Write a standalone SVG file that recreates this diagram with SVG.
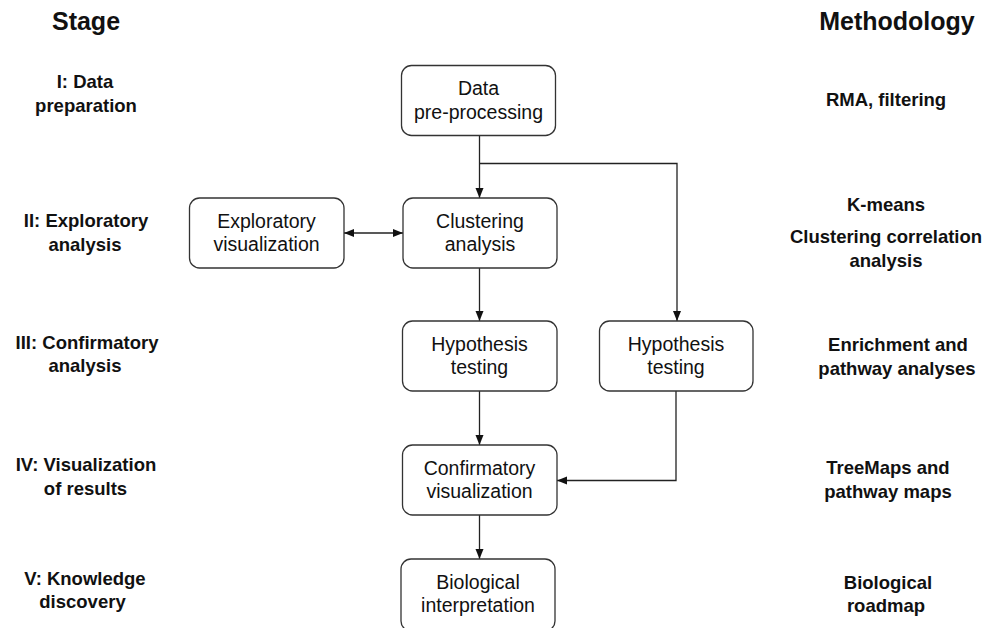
<svg xmlns="http://www.w3.org/2000/svg" width="995" height="628" viewBox="0 0 995 628">
<style>
.box{fill:#fff;stroke:#333;stroke-width:1.3}
.bt{font-family:"Liberation Sans",Arial,sans-serif;font-size:19.5px;fill:#111;text-anchor:middle}
.lab{font-family:"Liberation Sans",Arial,sans-serif;font-size:18.5px;font-weight:bold;fill:#111;text-anchor:middle}
.hd{font-family:"Liberation Sans",Arial,sans-serif;font-size:25px;font-weight:bold;fill:#111;text-anchor:middle}
.ln{fill:none;stroke:#222;stroke-width:1.3}
</style>
<defs>
<marker id="ah" viewBox="0 0 10 10" refX="10" refY="5" markerWidth="10" markerHeight="10" markerUnits="userSpaceOnUse" orient="auto-start-reverse">
<path d="M0,1 L10,5 L0,9 Z" fill="#111"/>
</marker>
</defs>
<rect width="995" height="628" fill="#fff"/>
<g id="headers">
<text class="hd" x="86" y="30">Stage</text>
<text class="hd" x="897" y="30">Methodology</text>
</g>
<g id="stages">
<text class="lab" x="85" y="88">I: Data</text>
<text class="lab" x="86" y="112">preparation</text>
<text class="lab" x="86" y="227">II: Exploratory</text>
<text class="lab" x="85" y="251">analysis</text>
<text class="lab" x="87" y="349">III: Confirmatory</text>
<text class="lab" x="85" y="372">analysis</text>
<text class="lab" x="86" y="471">IV: Visualization</text>
<text class="lab" x="85.5" y="495">of results</text>
<text class="lab" x="85" y="585">V: Knowledge</text>
<text class="lab" x="82.5" y="608">discovery</text>
</g>
<g id="methods">
<text class="lab" x="886" y="106">RMA, filtering</text>
<text class="lab" x="886" y="211">K-means</text>
<text class="lab" x="886" y="243">Clustering correlation</text>
<text class="lab" x="886" y="267">analysis</text>
<text class="lab" x="898" y="351">Enrichment and</text>
<text class="lab" x="897" y="375">pathway analyses</text>
<text class="lab" x="888" y="474">TreeMaps and</text>
<text class="lab" x="888" y="498">pathway maps</text>
<text class="lab" x="888" y="589">Biological</text>
<text class="lab" x="886" y="612">roadmap</text>
</g>
<g id="connectors">
<line class="ln" x1="479.5" y1="135" x2="479.5" y2="198" marker-end="url(#ah)"/>
<polyline class="ln" points="479.5,163.5 677,163.5 677,321" marker-end="url(#ah)"/>
<line class="ln" x1="344" y1="233" x2="403" y2="233" marker-start="url(#ah)" marker-end="url(#ah)"/>
<line class="ln" x1="479.5" y1="268" x2="479.5" y2="321" marker-end="url(#ah)"/>
<line class="ln" x1="479.5" y1="391" x2="479.5" y2="445" marker-end="url(#ah)"/>
<polyline class="ln" points="676,391 676,480.5 557,480.5" marker-end="url(#ah)"/>
<line class="ln" x1="479.5" y1="515" x2="479.5" y2="559" marker-end="url(#ah)"/>
</g>
<g id="n-preprocess">
<rect class="box" x="401.5" y="65.5" width="154" height="70" rx="10"/>
<text class="bt" x="478.5" y="95">Data</text>
<text class="bt" x="478.5" y="119">pre-processing</text>
</g>
<g id="n-clustering">
<rect class="box" x="403" y="198" width="154" height="70" rx="10"/>
<text class="bt" x="480" y="228">Clustering</text>
<text class="bt" x="480" y="251">analysis</text>
</g>
<g id="n-exploratory">
<rect class="box" x="189.5" y="198" width="154.5" height="70" rx="10"/>
<text class="bt" x="266.5" y="228">Exploratory</text>
<text class="bt" x="266.5" y="251">visualization</text>
</g>
<g id="n-hyp1">
<rect class="box" x="402.5" y="321" width="154.5" height="70" rx="10"/>
<text class="bt" x="479.5" y="351">Hypothesis</text>
<text class="bt" x="479.5" y="374">testing</text>
</g>
<g id="n-hyp2">
<rect class="box" x="599.5" y="321" width="153.5" height="70" rx="10"/>
<text class="bt" x="676" y="351">Hypothesis</text>
<text class="bt" x="676" y="374">testing</text>
</g>
<g id="n-confirm">
<rect class="box" x="402.5" y="445" width="154.5" height="70" rx="10"/>
<text class="bt" x="479.5" y="475">Confirmatory</text>
<text class="bt" x="479.5" y="498">visualization</text>
</g>
<g id="n-bio">
<rect class="box" x="401" y="559" width="154" height="72" rx="10"/>
<text class="bt" x="478" y="589">Biological</text>
<text class="bt" x="478" y="612">interpretation</text>
</g>
</svg>
